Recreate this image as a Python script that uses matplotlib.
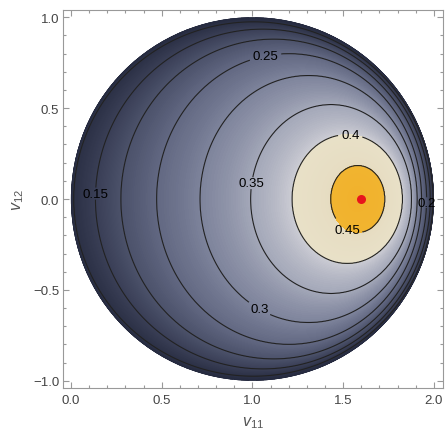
import numpy as np
import matplotlib
matplotlib.use("Agg")
import matplotlib.pyplot as plt
from matplotlib.colors import LinearSegmentedColormap, Normalize
from matplotlib.patches import Circle
from matplotlib.ticker import MultipleLocator

plt.rcParams["font.family"] = ["Liberation Sans", "DejaVu Sans"]
plt.rcParams["mathtext.fontset"] = "custom"
plt.rcParams["mathtext.it"] = "Liberation Sans:italic"
plt.rcParams["mathtext.rm"] = "Liberation Sans"

# contour levels and their shapes (ellipse: left/right crossing on v12=0, half height)
levels = [0.1, 0.15, 0.2, 0.25, 0.3, 0.35, 0.4, 0.45]
left_x = [0.015, 0.135, 0.275, 0.472, 0.711, 0.99, 1.218, 1.431]
right_x = [1.995, 1.98, 1.96, 1.932, 1.908, 1.877, 1.827, 1.73]
half_h = [0.975, 0.935, 0.88, 0.80, 0.68, 0.52, 0.355, 0.185]

# disc domain (centre, radius) and value on its rim
disc_center = (1.0, 0.0)
disc_radius = 1.0
edge_value = 0.07

# maximum
peak = (1.6, 0.0)
peak_value = 0.47

# label positions (None = no label)
label_pos = [None, (0.13, 0.03), (1.97, -0.02), (1.07, 0.79), (1.04, -0.6), (0.98, 0.09), (1.54, 0.37), (1.52, -0.17)]
label_spacing = [0, -7, -4, 3, 3, -7, 3, 3]

xticks = [0.0, 0.5, 1.0, 1.5, 2.0]
yticks = [-1.0, -0.5, 0.0, 0.5, 1.0]

#############################################
# build the field from the nested contour shapes
x = np.linspace(-0.06, 2.06, 700)
y = np.linspace(-1.06, 1.06, 700)
X, Y = np.meshgrid(x, y)

cxs = [disc_center[0]] + [(l + r) / 2 for l, r in zip(left_x, right_x)]
axs = [disc_radius] + [(r - l) / 2 for l, r in zip(left_x, right_x)]
bxs = [disc_radius] + list(half_h)
vals = [edge_value] + list(levels)

u = [np.sqrt(((X - cx) / a) ** 2 + (Y / b) ** 2) - 1 for cx, a, b in zip(cxs, axs, bxs)]

F = edge_value - 0.1 * u[0]
for k in range(len(vals) - 1):
    m = (u[k] <= 0) & (u[k + 1] > 0)
    w = -u[k] / (-u[k] + u[k + 1])
    F[m] = (vals[k] + (vals[k + 1] - vals[k]) * w)[m]
inner = u[-1] <= 0
F[inner] = (levels[-1] + (peak_value - levels[-1]) * (-u[-1]))[inner]

#############################################
# plot
fig = plt.figure(figsize=(4.45, 4.35), dpi=100)
ax = fig.add_axes([0.141, 0.1057, 0.8545, 0.869])

vmin, vmax = 0.05, 0.48
stops = [
    (0.05, "#1e2338"),
    (0.10, "#2b3045"),
    (0.15, "#393e55"),
    (0.20, "#4b516a"),
    (0.25, "#626882"),
    (0.30, "#7d839b"),
    (0.35, "#a3a7b8"),
    (0.3995, "#cacbd3"),
    (0.4005, "#e8e0c7"),
    (0.4495, "#e6dcc1"),
    (0.4505, "#f1b430"),
    (0.48, "#f0b02a"),
]
cmap = LinearSegmentedColormap.from_list(
    "mma", [((v - vmin) / (vmax - vmin), c) for v, c in stops], N=1024
)
norm = Normalize(vmin, vmax)

clip = Circle(disc_center, disc_radius, transform=ax.transData)
fill_levels = np.unique(np.round(np.concatenate([np.arange(0.0, 0.5, 0.0025), levels]), 6))
cf = ax.contourf(X, Y, F, levels=fill_levels, cmap=cmap, norm=norm, antialiased=False)
cf.set_clip_path(clip)

for lev, pos, sp in zip(levels, label_pos, label_spacing):
    cs = ax.contour(X, Y, F, levels=[lev], colors="#222222", linewidths=0.8)
    cs.set_clip_path(clip)
    if pos is None:
        continue
    texts = ax.clabel(cs, manual=[pos], inline=True, inline_spacing=sp,
                      fontsize=9.5, colors="black", fmt=lambda v: f"{v:g}")
    for t in texts:
        t.set_rotation(0)

ax.plot(peak[0], peak[1], "o", color="#e8141c", markersize=6.5, markeredgewidth=0, zorder=5)

ax.set_xlim(-0.045, 2.05)
ax.set_ylim(-1.04, 1.04)
ax.set_xticks(xticks)
ax.set_yticks(yticks)
ax.xaxis.set_minor_locator(MultipleLocator(0.1))
ax.yaxis.set_minor_locator(MultipleLocator(0.1))
ax.tick_params(which="both", direction="in", top=True, right=True, color="#999999", width=0.8,
               labelsize=9.5, labelcolor="#444444")
ax.tick_params(which="major", length=4.5)
ax.tick_params(which="minor", length=2.5)
ax.tick_params(axis="x", pad=4)
ax.tick_params(axis="y", pad=2.5)
for sp in ax.spines.values():
    sp.set_color("#999999")
    sp.set_linewidth(0.8)

ax.set_xlabel(r"$v_{11}$", fontsize=11.5, color="#555555", labelpad=6)
ax.set_ylabel(r"$v_{12}$", fontsize=11.5, color="#555555", labelpad=5)

plt.savefig("out.png", dpi=100)
plt.close()
